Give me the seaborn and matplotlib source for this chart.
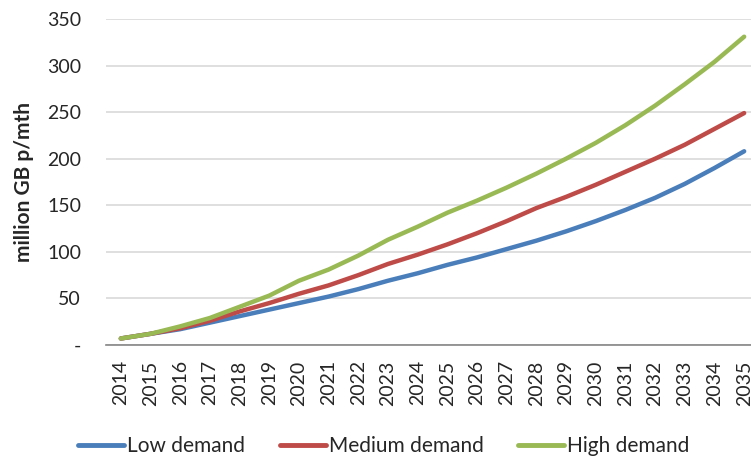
import numpy as np
import pandas as pd
import seaborn as sns
import matplotlib.pyplot as plt

years = list(range(2014, 2036))
low = [7, 12, 17, 24, 31, 38, 45, 52, 60, 69, 77, 86, 94, 103, 112, 122, 133, 145, 158, 173, 190, 208]
medium = [7, 12, 18, 26, 36, 45, 55, 64, 75, 87, 97, 108, 120, 133, 147, 159, 172, 186, 200, 215, 232, 249]
high = [7, 12, 20, 29, 41, 53, 69, 81, 96, 113, 127, 142, 155, 169, 184, 200, 217, 236, 257, 280, 304, 331]
series_names = ['Low demand', 'Medium demand', 'High demand']
colors = ['#4a7ebb', '#be4b48', '#98b954']

df = pd.DataFrame({
    'year': years * 3,
    'value': low + medium + high,
    'series': sum([[n] * len(years) for n in series_names], []),
})

sns.set_style('white')
plt.rcParams['font.family'] = ['Lato', 'DejaVu Sans']

fig = plt.figure(figsize=(7.51, 4.58), dpi=100)
ax = fig.add_axes([106 / 751, 113 / 458, 653 / 751, 326 / 458])

sns.lineplot(data=df, x='year', y='value', hue='series', palette=colors,
             hue_order=series_names, linewidth=3.2, ax=ax, legend=True)

ax.set_xlim(2013.5, 2035.5)
ax.set_ylim(0, 350)
ax.set_yticks(range(0, 351, 50))
ax.set_yticklabels(['-'] + [str(v) for v in range(50, 351, 50)], fontsize=14, color='#262626')
ax.yaxis.grid(True, color='#d9d9d9', linewidth=1.2)
ax.tick_params(axis='y', length=0, pad=18)

ax.set_xticks(years)
ax.set_xticklabels([str(y) for y in years], rotation=90, fontsize=14, color='#262626')
ax.set_xticks(np.arange(2013.5, 2036, 1), minor=True)
ax.tick_params(axis='x', which='major', length=0, pad=11)
ax.tick_params(axis='x', which='minor', length=5, width=1, color='#868686', direction='out')

for s in ['top', 'right', 'left']:
    ax.spines[s].set_visible(False)
ax.spines['bottom'].set_color('#868686')
ax.spines['bottom'].set_linewidth(1.2)

ax.set_xlabel('')
ax.set_ylabel('million GB p/mth', fontsize=15, fontweight='bold', labelpad=9)

ax.legend_.remove()
handles, labels = ax.get_legend_handles_labels()
for h in handles:
    h.set_linewidth(3.5)
fig.legend(handles, labels, loc='center left', bbox_to_anchor=(68 / 751, 0.026),
           ncol=3, frameon=False, fontsize=15, handlelength=2.2,
           handletextpad=0.15, columnspacing=1.65, borderpad=0)

fig.savefig('out.png', dpi=100)
